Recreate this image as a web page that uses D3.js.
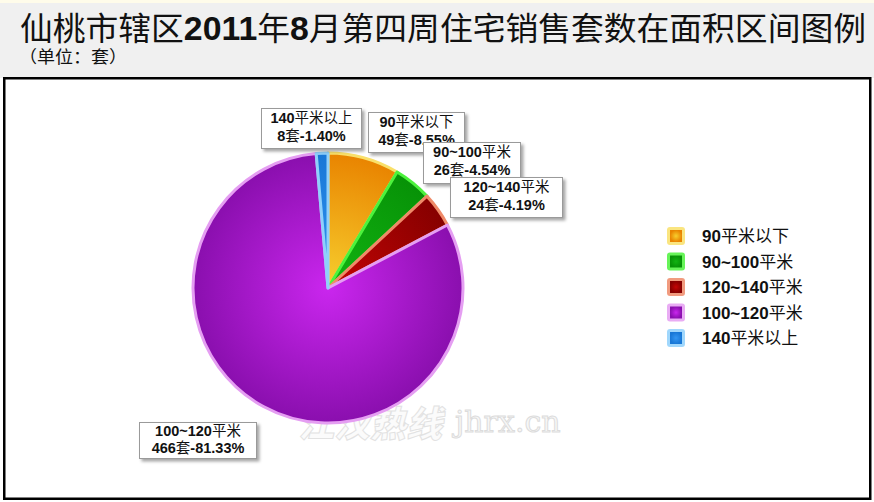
<!DOCTYPE html>
<html><head><meta charset="utf-8">
<script src="https://cdn.jsdelivr.net/npm/d3@7/dist/d3.min.js"></script>
<style>body{margin:0;background:#fff;} svg{display:block}</style>
</head><body>
<svg id="c" width="874" height="502"></svg>
<script>
// ---- data ----
const categories = ["90平米以下", "90~100平米", "120~140平米", "100~120平米", "140平米以上"];
const counts = [49, 26, 24, 466, 8];
const percents = ["8.55%", "4.54%", "4.19%", "81.33%", "1.40%"];
const titleParts = [["仙桃市辖区", 0], ["2011", 1], ["年", 0], ["8", 1], ["月第四周住宅销售套数在面积区间图例", 0]];
const subtitle = "（单位：套）";
const unit = "套";

// ---- style ----
const innerColors = ["#f7cf2e", "#12b412", "#c40404", "#ca26ee", "#3396f2"];
const outerColors = ["#e98400", "#079207", "#860000", "#8a0fae", "#1877d6"];
const edgeColors  = ["#f9e06a", "#4cf23c", "#ef8a68", "#e59ef2", "#8fd0fb"];
// label boxes: [x, y, w, h]
const labelBoxes = [[368, 112, 96, 40], [423, 142, 97, 41], [450, 177, 112, 40], [139, 422, 117, 36], [261, 108, 100, 40]];
const drawOrder = [4, 0, 1, 2, 3];

const CJK = "'Noto Sans CJK SC', 'Noto Sans', sans-serif";
const LAT = "'Liberation Sans', Arial, sans-serif";

const svg = d3.select("#c");
const defs = svg.append("defs");
const sh = defs.append("filter").attr("id", "shadow").attr("x", "-20%").attr("y", "-20%").attr("width", "150%").attr("height", "150%");
sh.append("feDropShadow").attr("dx", 2.5).attr("dy", 2.5).attr("stdDeviation", 1.5).attr("flood-color", "#000").attr("flood-opacity", 0.35);

// header background
svg.append("rect").attr("x", 0).attr("y", 0).attr("width", 874).attr("height", 78).attr("fill", "#f0f0f0");
svg.append("rect").attr("x", 0).attr("y", 0).attr("width", 874).attr("height", 3).attr("fill", "#fffcea");

function addRuns(textSel, str, size, cjkWeight) {
  const re = /([\u3000-\u9fff\uff00-\uffef]+|[^\u3000-\u9fff\uff00-\uffef]+)/g;
  const parts = str.match(re) || [];
  parts.forEach(p => {
    const isC = /[\u3000-\u9fff\uff00-\uffef]/.test(p);
    textSel.append("tspan").text(p)
      .attr("font-family", isC ? CJK : LAT)
      .attr("font-weight", isC ? (cjkWeight || 400) : 700)
      .attr("font-size", size);
  });
}

// title
const title = svg.append("text").attr("x", 20).attr("y", 40).attr("fill", "#111")
  .attr("textLength", 846).attr("lengthAdjust", "spacingAndGlyphs");
titleParts.forEach(([t, b]) => {
  title.append("tspan").text(t).attr("font-family", b ? LAT : CJK)
    .attr("font-weight", b ? 700 : 400).attr("font-size", b ? 33 : 32);
});
svg.append("text").attr("x", 19).attr("y", 63).attr("font-family", CJK).attr("font-size", 17)
  .attr("textLength", 108).attr("lengthAdjust", "spacingAndGlyphs")
  .attr("fill", "#111").text(subtitle);

// frame
svg.append("rect").attr("x", 4.25).attr("y", 78.25).attr("width", 866).attr("height", 420.5)
  .attr("fill", "#fff").attr("stroke", "#000").attr("stroke-width", 2.5);

// watermark
const wm = svg.append("g");
wm.append("text").attr("x", 298).attr("y", 437).attr("font-family", CJK).attr("font-weight", 900)
  .attr("font-style", "italic").attr("font-size", 36).attr("fill", "#fbfbfb").attr("stroke", "#e2e2e2")
  .attr("stroke-width", 1).text("江汉热线");
wm.append("text").attr("x", 455).attr("y", 432).attr("font-family", "'DejaVu Serif', serif")
  .attr("font-size", 30).attr("fill", "#f7f7f7").attr("stroke", "#dcdcdc").attr("stroke-width", 1)
  .text("jhrx.cn");

// pie
const cx = 328, cy = 288, R = 135;
const pie = d3.pie().sort(null).value(d => d)(counts);
const arc = d3.arc().innerRadius(0).outerRadius(R);
counts.forEach((_, i) => {
  const g = defs.append("radialGradient").attr("id", "g" + i).attr("gradientUnits", "userSpaceOnUse")
    .attr("cx", 0).attr("cy", 0).attr("r", R).attr("fx", 0).attr("fy", 0);
  g.append("stop").attr("offset", 0).attr("stop-color", innerColors[i]);
  g.append("stop").attr("offset", 1).attr("stop-color", outerColors[i]);
  const lg = defs.append("radialGradient").attr("id", "lg" + i);
  lg.append("stop").attr("offset", 0).attr("stop-color", innerColors[i]);
  lg.append("stop").attr("offset", 1).attr("stop-color", outerColors[i]);
});
const pg = svg.append("g").attr("transform", `translate(${cx},${cy})`);
pg.selectAll("path").data(pie).join("path")
  .attr("d", arc)
  .attr("fill", (d, i) => `url(#g${i})`)
  .attr("stroke", (d, i) => edgeColors[i]).attr("stroke-width", 3).attr("stroke-linejoin", "round");

// labels
drawOrder.forEach(i => {
  const [x, y, w, h] = labelBoxes[i];
  const g = svg.append("g");
  g.append("rect").attr("x", x + 0.5).attr("y", y + 0.5).attr("width", w).attr("height", h)
    .attr("fill", "#fff").attr("stroke", "#9a9a9a").attr("stroke-width", 1).attr("filter", "url(#shadow)");
  const t1 = g.append("text").attr("x", x + w / 2 + 0.5).attr("y", y + (h > 38 ? 15 : 14)).attr("text-anchor", "middle").attr("fill", "#111");
  addRuns(t1, categories[i], 14.5);
  const t2 = g.append("text").attr("x", x + w / 2 + 0.5).attr("y", y + (h > 38 ? 33 : 31)).attr("text-anchor", "middle").attr("fill", "#111");
  addRuns(t2, counts[i] + unit + "-" + percents[i], 14.5);
});

// legend
const lgY = d3.scalePoint().domain(d3.range(categories.length)).range([236, 338]);
const leg = svg.append("g");
categories.forEach((c, i) => {
  const y = lgY(i);
  leg.append("rect").attr("x", 667).attr("y", y - 9).attr("width", 18).attr("height", 18).attr("rx", 3)
    .attr("fill", edgeColors[i]).attr("opacity", 0.85);
  leg.append("rect").attr("x", 670).attr("y", y - 6).attr("width", 12).attr("height", 12)
    .attr("fill", `url(#lg${i})`);
  const t = leg.append("text").attr("x", 702).attr("y", y + 6).attr("fill", "#111");
  addRuns(t, c, 17);
});
</script>
</body></html>
